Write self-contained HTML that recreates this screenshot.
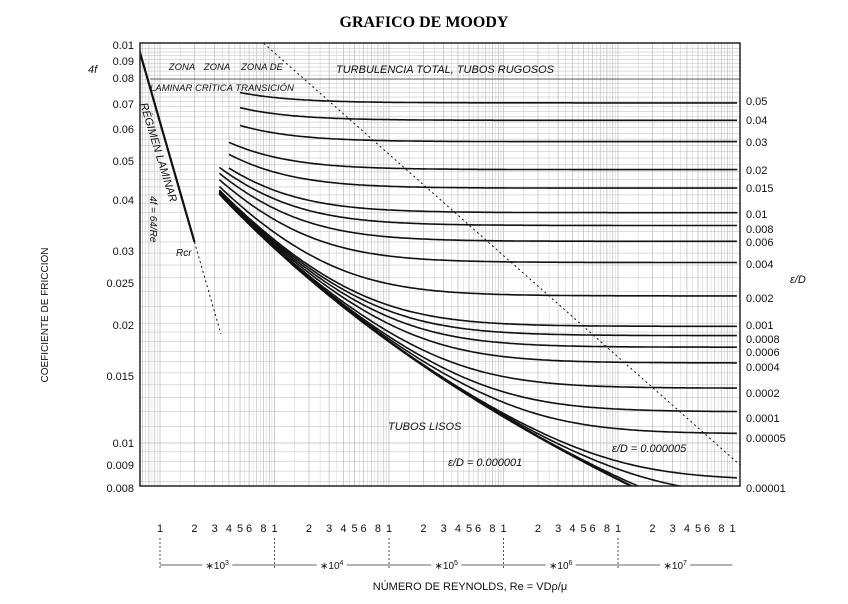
<!DOCTYPE html>
<html><head><meta charset="utf-8"><style>
body{margin:0;background:#fff;}
svg text{font-family:"Liberation Sans",sans-serif;}
</style></head><body>
<svg id="s" width="848" height="599" xmlns="http://www.w3.org/2000/svg">
<text x="424" y="27" text-anchor="middle" style="font-family:'Liberation Serif',serif;font-weight:bold;font-size:16px">GRAFICO DE MOODY</text>
<defs><clipPath id="c"><rect x="140" y="43" width="600" height="443"/></clipPath></defs>
<g id="grid" stroke="#bbb" stroke-width="0.6"></g>
<g id="curves" clip-path="url(#c)" fill="none" stroke="#111" stroke-width="1.8"></g>
<rect x="140" y="43" width="600" height="443" fill="none" stroke="#222" stroke-width="1.5"/>
<g id="lab" font-size="11" fill="#111"></g>
</svg>
<script>
var NS="http://www.w3.org/2000/svg";
function X(re){return 160+114.5*Math.log10(re/1000);}
function Y(f){return 443-398*(Math.log10(f)+2);}
function el(p,t,a,txt){var e=document.createElementNS(NS,t);for(var k in a)e.setAttribute(k,a[k]);if(txt!=null)e.textContent=txt;document.getElementById(p).appendChild(e);return e;}
for(var d=2;d<=8;d++){for(var m=1;m<10;m+=0.5){var x=X(Math.pow(10,d)*m);if(x>140&&x<740)el("grid","line",{x1:x,x2:x,y1:43,y2:486,"stroke-width":(m%1==0?0.7:0.35)});}}
var fs=[];for(var f=0.008;f<0.0101;f+=0.0005)fs.push(f);for(f=0.01;f<0.02;f+=0.001)fs.push(f);for(f=0.02;f<0.1;f+=0.002)fs.push(f);
fs.forEach(function(f){var y=Y(f);if(y>43&&y<486)el("grid","line",{x1:140,x2:740,y1:y,y2:y,"stroke-width":0.5});});
function cb(e,re){var f=0.03;for(var i=0;i<50;i++){var r=-2*Math.log10(e/3.7+2.51/(re*Math.sqrt(f)));f=1/(r*r);}return f;}
var eds=[0.05,0.04,0.03,0.02,0.015,0.01,0.008,0.006,0.004,0.002,0.001,0.0008,0.0006,0.0004,0.0002,0.0001,0.00005,0.00001,0.000005,0.000001,0];
eds.forEach(function(e){var p="";var start=e>=0.03?5000:(e>=0.01?4000:3300);for(var l=Math.log10(start);l<=8.05;l+=0.02){var re=Math.pow(10,l);p+=(p?"L":"M")+X(re).toFixed(1)+" "+Y(cb(e,re)).toFixed(1);}el("curves","path",{d:p,"stroke-width":e==0?2.2:1.6});});
el("curves","line",{x1:X(640),y1:Y(0.1),x2:X(2000),y2:Y(0.032),"stroke-width":2.2});
el("curves","line",{x1:X(2000),y1:Y(0.032),x2:X(3400),y2:Y(0.0188),"stroke-dasharray":"2 3","stroke-width":1});
el("curves","line",{x1:260,y1:40,x2:740,y2:465,"stroke-dasharray":"2 3","stroke-width":1});
[[0.01,45],[0.09,61],[0.08,78],[0.07,104],[0.06,129],[0.05,161],[0.04,200],[0.03,251],[0.025,283],[0.02,325],[0.015,376],[0.01,443],[0.009,465],[0.008,488]].forEach(function(a){el("lab","text",{x:134,y:a[1]+4,"text-anchor":"end"},a[0]);});
el("lab","text",{x:88,y:73,"font-style":"italic"},"4f");
el("lab","text",{transform:"translate(48,315) rotate(-90)","text-anchor":"middle","font-size":10},"COEFICIENTE DE FRICCION");
[["0.05",101],["0.04",120],["0.03",142],["0.02",170],["0.015",188],["0.01",214],["0.008",229],["0.006",242],["0.004",264],["0.002",298],["0.001",325],["0.0008",339],["0.0006",352],["0.0004",367],["0.0002",393],["0.0001",418],["0.00005",438],["0.00001",488]].forEach(function(a){el("lab","text",{x:746,y:a[1]+4},a[0]);});
el("lab","text",{x:790,y:283,"font-style":"italic"},"ε/D");
for(var d=3;d<8;d++){[1,2,3,4,5,6,8].forEach(function(m){el("lab","text",{x:X(Math.pow(10,d)*m),y:532,"text-anchor":"middle"},m);});
 var x0=X(Math.pow(10,d)),x1=X(Math.pow(10,d+1));el("lab","line",{x1:x0,x2:x0,y1:538,y2:570,stroke:"#555","stroke-dasharray":"2 2"});
 el("lab","line",{x1:x0,x2:x1,y1:565,y2:565,stroke:"#333","stroke-width":0.8});
 el("lab","rect",{x:(x0+x1)/2-15,y:558,width:30,height:12,fill:"#fff"});
 var t=el("lab","text",{x:(x0+x1)/2,y:569,"text-anchor":"middle","font-size":10});t.innerHTML='∗10<tspan dy="-4" font-size="7">'+d+'</tspan>';
}
el("lab","text",{x:X(1e8),y:532,"text-anchor":"middle"},"1");
el("lab","text",{x:470,y:590,"text-anchor":"middle","font-size":11},"NÚMERO DE REYNOLDS, Re = VDρ/μ");
el("lab","line",{x1:150,x2:740,y1:79,y2:79,stroke:"#333","stroke-width":0.8});
[["ZONA",182,70],["ZONA",217,70],["ZONA DE",262,70],["LAMINAR CRÍTICA TRANSICIÓN",222,91]].forEach(function(a){el("lab","text",{x:a[1],y:a[2],"text-anchor":"middle","font-style":"italic","font-size":9.5},a[0]);});
el("lab","text",{x:445,y:73,"text-anchor":"middle","font-style":"italic","font-size":11},"TURBULENCIA TOTAL, TUBOS RUGOSOS");
el("lab","text",{transform:"translate(140,104) rotate(73)","font-style":"italic","font-size":11},"RÉGIMEN LAMINAR");
el("lab","text",{transform:"translate(150,196) rotate(90)","font-style":"italic","font-size":10},"4f = 64/Re");
el("lab","text",{x:176,y:256,"font-style":"italic","font-size":10},"Rcr");
el("lab","text",{x:388,y:430,"font-style":"italic","font-size":11},"TUBOS LISOS");
el("lab","text",{x:448,y:466,"font-style":"italic","font-size":11},"ε/D = 0.000001");
el("lab","text",{x:612,y:452,"font-style":"italic","font-size":11},"ε/D = 0.000005");
</script>
</body></html>
